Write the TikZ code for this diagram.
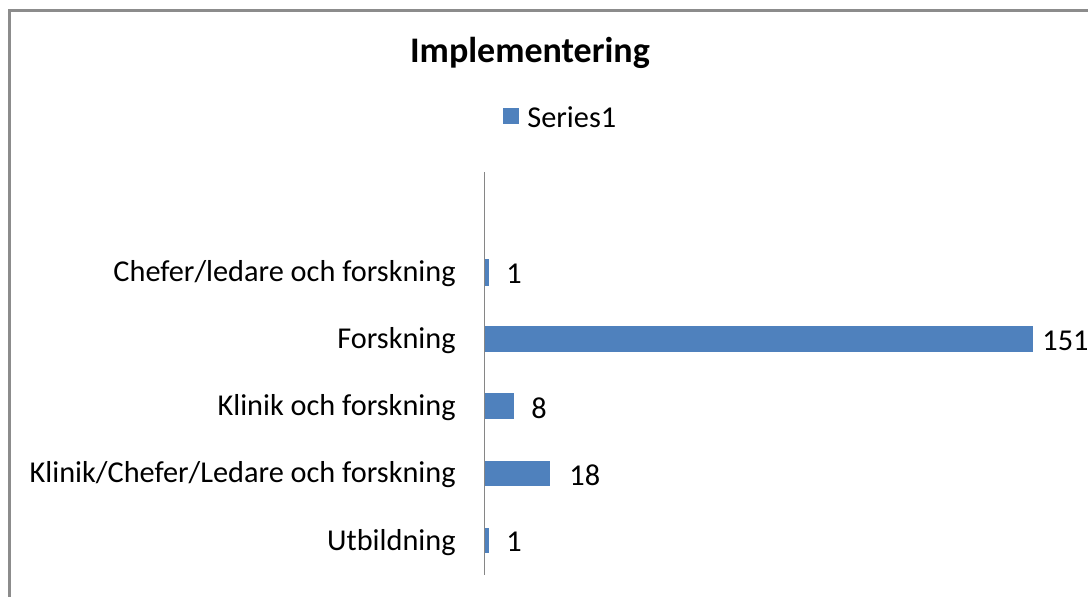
\documentclass[tikz,border=0pt]{standalone}
\usepackage{fontspec}
\setmainfont{Carlito}
\definecolor{barblue}{HTML}{4F81BD}
\definecolor{framegray}{HTML}{8C8C8C}
\definecolor{axisgray}{HTML}{868686}
\begin{document}
\begin{tikzpicture}[x=0.5pt,y=-0.5pt]
\tikzset{
  every node/.append style={inner sep=0pt},
  catlabel/.style={anchor=east,font=\fontsize{15.15}{18}\selectfont},
  vallabel/.style={anchor=west,font=\fontsize{15.15}{18}\selectfont},
  bar/.style={fill=barblue,draw=none}
}
\useasboundingbox (0,0) rectangle (1088,596);
\clip (0,0) rectangle (1088,596);
% frame
\draw [framegray,line width=1.5pt] (9,10) rectangle (1120,640);
% title and legend
\node (title) at (530,53) {\fontsize{18}{22}\selectfont\bfseries Implementering};
\fill [barblue] (503,108) rectangle (519,124);
\node [anchor=west] (legend) at (527,117) {\fontsize{15.15}{18}\selectfont Series1};
% axis
\coordinate (axtop) at (484.5,172);
\coordinate (axbot) at (484.5,575);
\draw [axisgray,line width=0.75pt] (axtop) -- (axbot);
% bars
\fill [bar] (485,259) rectangle (488.6,286);
\fill [bar] (485,326) rectangle (1033,352);
\fill [bar] (485,393) rectangle (514,419);
\fill [bar] (485,461) rectangle (550,486);
\fill [bar] (485,528) rectangle (488.6,553);
% category labels
\node [catlabel] (cat1) at (456,274) {Chefer/ledare och forskning};
\node [catlabel] (cat2) at (456,341) {Forskning};
\node [catlabel] (cat3) at (456,408) {Klinik och forskning};
\node [catlabel] (cat4) at (456,475) {Klinik/Chefer/Ledare och forskning};
\node [catlabel] (cat5) at (456,542.5) {Utbildning};
% value labels
\node [vallabel] (val1) at (506,274) {1};
\node [vallabel] (val2) at (1042,341) {151};
\node [vallabel] (val3) at (531,408) {8};
\node [vallabel] (val4) at (569,475) {18};
\node [vallabel] (val5) at (506,542) {1};
\end{tikzpicture}
\end{document}
